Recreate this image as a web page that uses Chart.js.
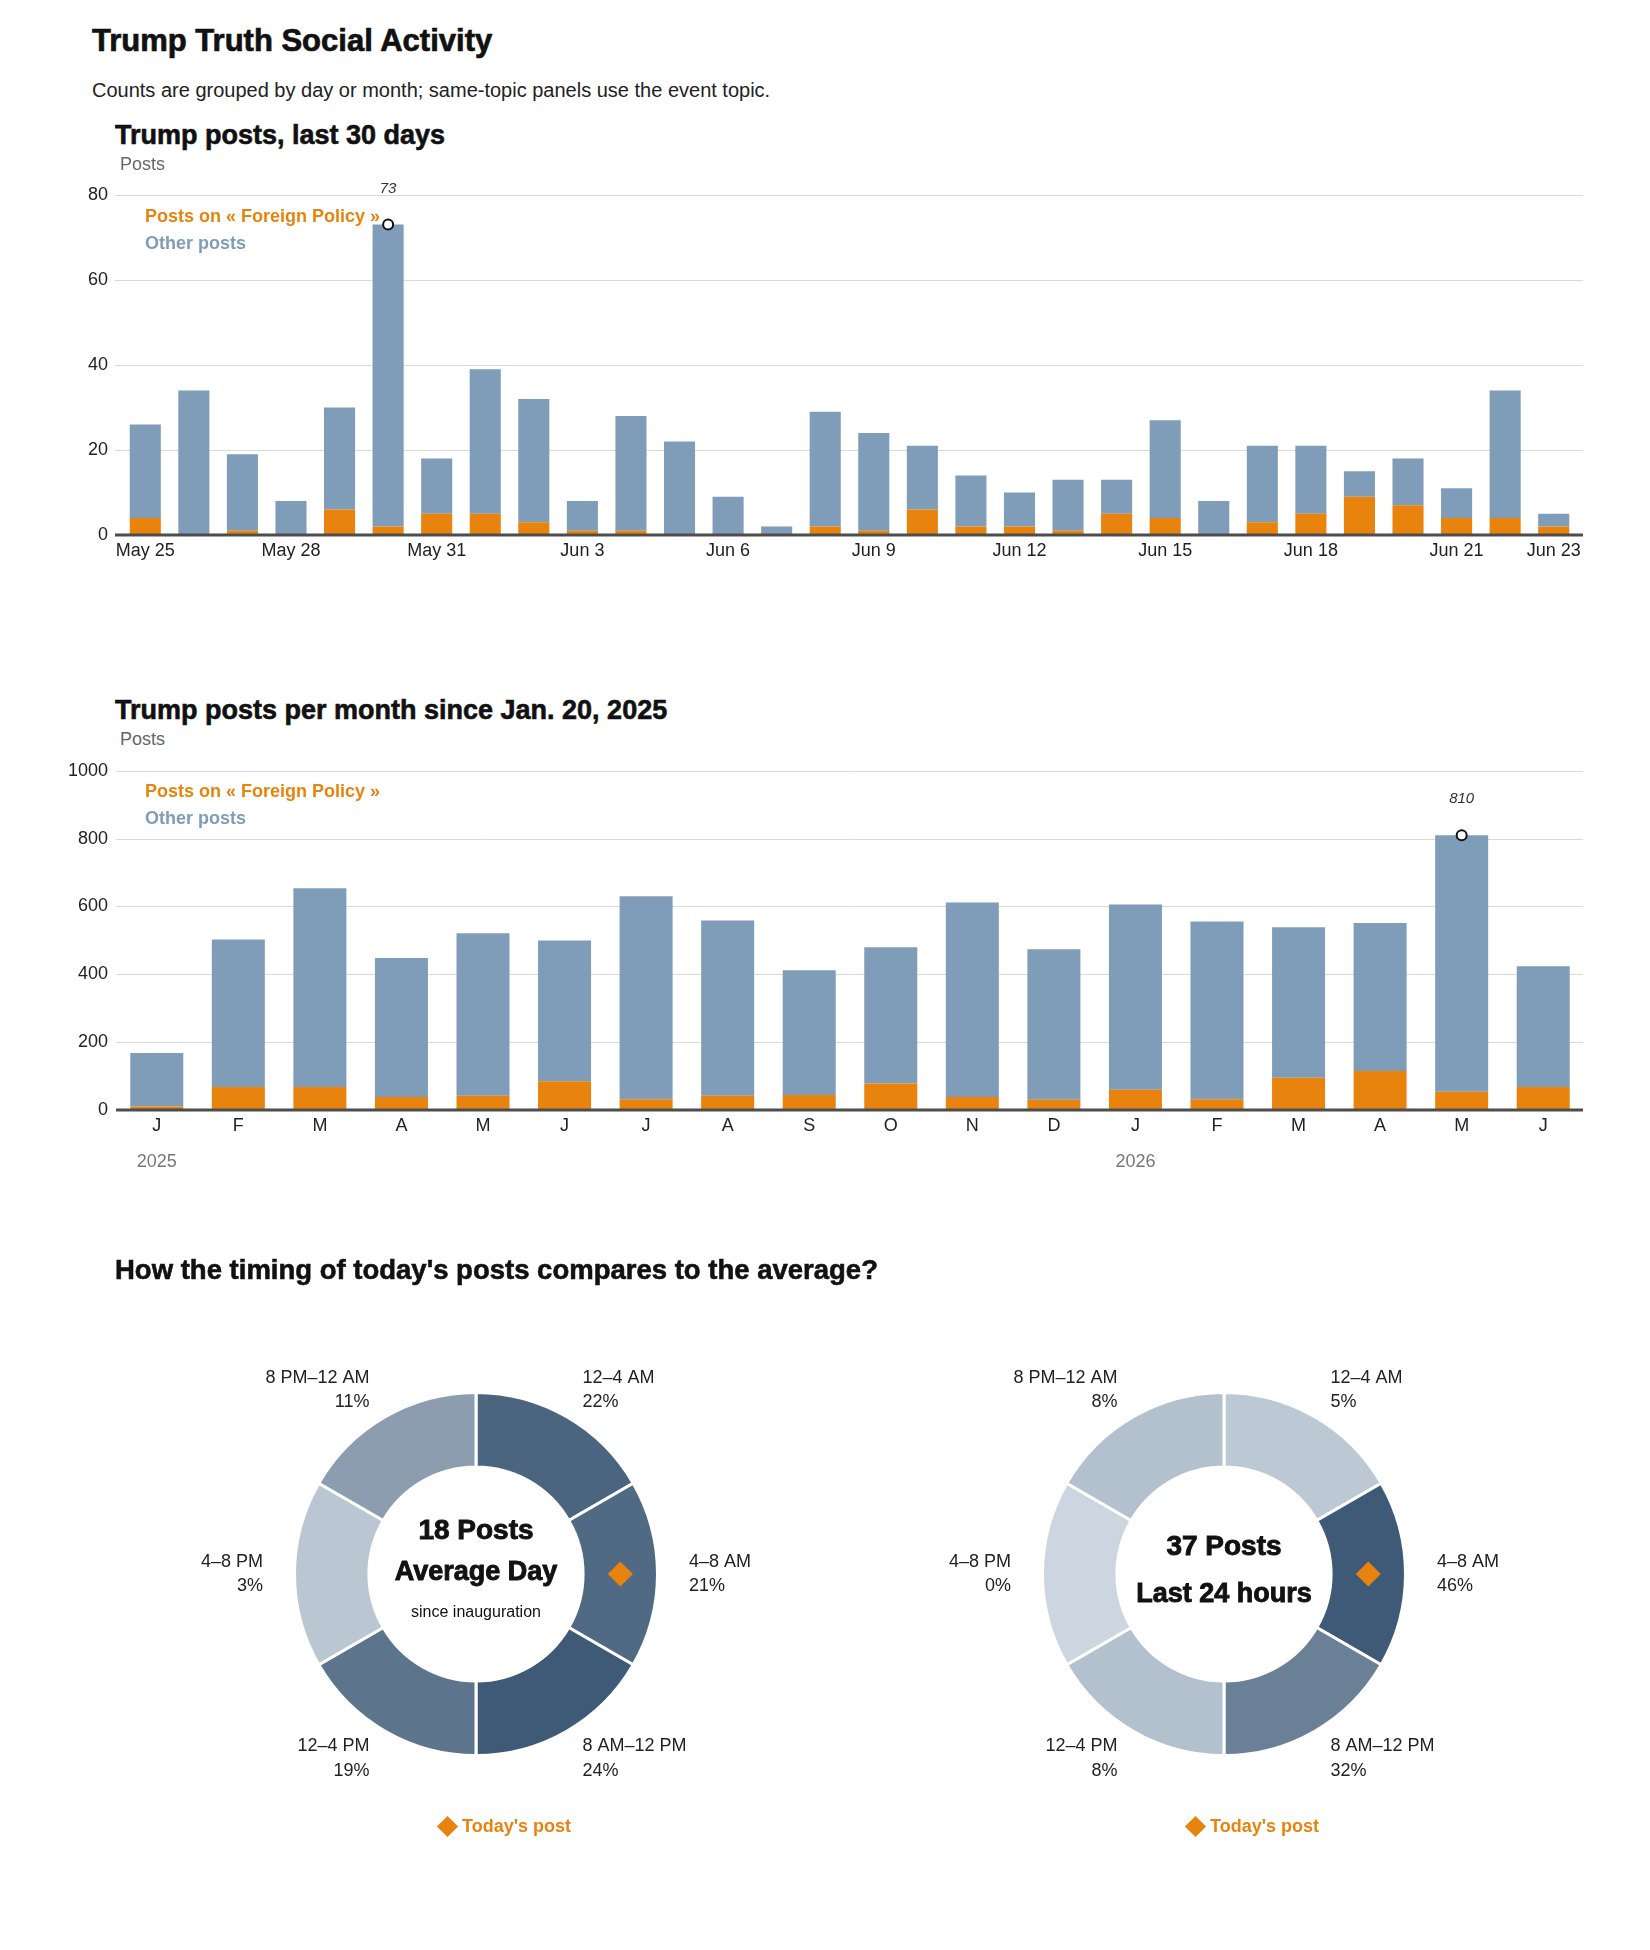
<!DOCTYPE html>
<html>
<head>
<meta charset="utf-8">
<script src="https://cdn.jsdelivr.net/npm/chart.js@4.4.1/dist/chart.umd.min.js"></script>
<style>
  html, body { margin: 0; padding: 0; background: #fff; }
  body { width: 1650px; height: 1950px; position: relative; overflow: hidden;
         font-family: 'Liberation Sans', Arial, sans-serif; color: #111; }
  .t { position: absolute; white-space: nowrap; line-height: 1; z-index: 2; }
  .h0 { font-weight: 700; font-size: 31px; -webkit-text-stroke: 0.7px #111; }
  .h1 { font-weight: 700; font-size: 27px; -webkit-text-stroke: 0.6px #111; }
  .sub { font-size: 20px; color: #222; }
  .ax { font-size: 18px; color: #666; }
  .lg { font-weight: 700; font-size: 18px; }
  canvas { position: absolute; z-index: 1; }
  .dia { position: absolute; width: 15px; height: 15px; background: #E8830E; transform: rotate(45deg); z-index: 2; }
</style>
</head>
<body>

<div class="t h0" style="left:92px; top:25px;">Trump Truth Social Activity</div>
<div class="t sub" style="left:92px; top:80px;">Counts are grouped by day or month; same-topic panels use the event topic.</div>

<div class="t h1" style="left:115px; top:122px;">Trump posts, last 30 days</div>
<div class="t ax" style="left:120px; top:155px;">Posts</div>
<div class="t lg" style="left:145px; top:207px; color:#E8830E;">Posts on « Foreign Policy »</div>
<div class="t lg" style="left:145px; top:234px; color:#7F9DB9;">Other posts</div>
<canvas id="c1" width="1650" height="409" style="left:0; top:171px; width:1650px; height:409px;"></canvas>

<div class="t h1" style="left:115px; top:697px;">Trump posts per month since Jan. 20, 2025</div>
<div class="t ax" style="left:120px; top:730px;">Posts</div>
<div class="t lg" style="left:145px; top:782px; color:#E8830E;">Posts on « Foreign Policy »</div>
<div class="t lg" style="left:145px; top:809px; color:#7F9DB9;">Other posts</div>
<canvas id="c2" width="1650" height="433" style="left:0; top:752px; width:1650px; height:433px;"></canvas>

<div class="t h1" style="left:115px; top:1256px; font-size:27.5px;">How the timing of today's posts compares to the average?</div>
<canvas id="d1" width="600" height="600" style="left:176px; top:1274px; width:600px; height:600px;"></canvas>
<canvas id="d2" width="600" height="600" style="left:924px; top:1274px; width:600px; height:600px;"></canvas>

<div class="dia" style="left:440px; top:1819px;"></div>
<div class="t lg" style="left:462px; top:1817px; color:#E8830E;">Today's post</div>
<div class="dia" style="left:1188px; top:1819px;"></div>
<div class="t lg" style="left:1210px; top:1817px; color:#E8830E;">Today's post</div>

<script>
// ---------------- DATA ----------------
const dayLabels = ['May 25','May 26','May 27','May 28','May 29','May 30','May 31',
  'Jun 1','Jun 2','Jun 3','Jun 4','Jun 5','Jun 6','Jun 7','Jun 8','Jun 9','Jun 10',
  'Jun 11','Jun 12','Jun 13','Jun 14','Jun 15','Jun 16','Jun 17','Jun 18','Jun 19',
  'Jun 20','Jun 21','Jun 22','Jun 23'];
const dayForeign = [4,0,1,0,6,2,5,5,3,1,1,0,0,0,2,1,6,2,2,1,5,4,0,3,5,9,7,4,4,2];
const dayOther   = [22,34,18,8,24,71,13,34,29,7,27,22,9,2,27,23,15,12,8,12,8,23,8,18,16,6,11,7,30,3];
const dayTicks   = [0,20,40,60,80];

const monthLabels  = ['J','F','M','A','M','J','J','A','S','O','N','D','J','F','M','A','M','J'];
const monthYears   = { 0: '2025', 12: '2026' };
const monthForeign = [10,68,68,38,42,85,32,42,44,78,38,30,60,32,95,115,54,68];
const monthOther   = [158,435,586,410,479,415,598,517,368,402,574,444,546,524,444,436,756,356];
const monthTicks   = [0,200,400,600,800,1000];

const timeBins  = ['12–4 AM','4–8 AM','8 AM–12 PM','12–4 PM','4–8 PM','8 PM–12 AM'];
const binHours  = [4,4,4,4,4,4];
const avgPct    = [22,21,24,19,3,11];
const todayPct  = [5,46,32,8,0,8];
const todayBin  = 1;

// ---------------- STYLE ----------------
const ORANGE = '#E8830E', BLUE = '#7F9DB9';
Chart.defaults.font.family = "'Liberation Sans', Arial, sans-serif";
Chart.defaults.color = '#222';

const barDecor = {
  id: 'barDecor',
  beforeDatasetsDraw(chart, args, o) {
    const y = chart.scales.y, ctx = chart.ctx;
    ctx.save();
    ctx.strokeStyle = '#d9d9d9'; ctx.lineWidth = 1;
    y.ticks.forEach(t => {
      if (t.value === 0) return;
      const py = Math.round(y.getPixelForValue(t.value)) + 0.5;
      ctx.beginPath(); ctx.moveTo(o.left, py); ctx.lineTo(o.right, py); ctx.stroke();
    });
    ctx.restore();
  },
  afterDatasetsDraw(chart, args, o) {
    const y = chart.scales.y, x = chart.scales.x, ctx = chart.ctx;
    ctx.save();
    const y0 = y.getPixelForValue(0);
    ctx.fillStyle = '#4d4d4d';
    ctx.fillRect(o.left, y0 - 1.5, o.right - o.left, 3);
    // peak label
    const ds = chart.data.datasets[2];
    const meta = chart.getDatasetMeta(2);
    meta.data.forEach((el, i) => {
      const v = ds.data[i];
      if (v === null || v === undefined) return;
      ctx.fillStyle = '#333';
      ctx.font = "italic 15px 'Liberation Sans Narrow', 'Liberation Sans', Arial, sans-serif";
      ctx.textAlign = 'center'; ctx.textBaseline = 'middle';
      ctx.fillText(String(v), el.x, el.y - 36);
    });
    // year labels
    if (o.years) {
      ctx.fillStyle = '#777';
      ctx.font = "18px 'Liberation Sans', Arial, sans-serif";
      ctx.textAlign = 'center'; ctx.textBaseline = 'middle';
      Object.keys(o.years).forEach(k => {
        ctx.fillText(o.years[k], x.getPixelForValue(Number(k)), o.yearY);
      });
    }
    ctx.restore();
  }
};

function peakSeries(a, b) {
  const tot = a.map((v, i) => v + b[i]);
  const mx = Math.max(...tot);
  return tot.map(v => v === mx ? v : null);
}

function barChart(id, labels, foreign, other, ticks, opts) {
  return new Chart(document.getElementById(id), {
    type: 'bar',
    data: {
      labels,
      datasets: [
        { label: 'Posts on « Foreign Policy »', data: foreign, backgroundColor: ORANGE,
          categoryPercentage: 1, barPercentage: opts.barPct, order: 1 },
        { label: 'Other posts', data: other, backgroundColor: BLUE,
          categoryPercentage: 1, barPercentage: opts.barPct, order: 1 },
        { type: 'line', data: peakSeries(foreign, other), showLine: false, order: 0,
          pointRadius: 5, pointBorderWidth: 2, pointBorderColor: '#111',
          pointBackgroundColor: '#fff', pointHoverRadius: 5 }
      ]
    },
    options: {
      responsive: false, animation: false,
      layout: { padding: { top: 15, right: opts.padRight, left: 0, bottom: opts.padBottom } },
      plugins: { legend: { display: false }, tooltip: { enabled: false },
                 barDecor: { left: opts.gridLeft, right: opts.gridRight, years: opts.years, yearY: opts.yearY } },
      scales: {
        x: {
          stacked: true, grid: { display: false }, border: { display: false },
          ticks: {
            autoSkip: false, maxRotation: 0, minRotation: 0, padding: -3,
            font: { size: 18 }, color: '#222',
            callback: function(v, i) { return opts.showTick(i, labels.length) ? labels[i] : ''; }
          },
          afterFit: s => { s.height = 45; }
        },
        y: {
          stacked: true, min: 0, max: ticks[ticks.length - 1],
          grid: { display: false, drawTicks: false }, border: { display: false },
          afterBuildTicks: s => { s.ticks = ticks.map(v => ({ value: v })); },
          ticks: { padding: opts.yPad, font: { size: 18 }, color: '#222',
                   callback: v => String(v) },
          afterFit: s => { s.width = opts.yWidth; }
        }
      }
    },
    plugins: [barDecor]
  });
}

barChart('c1', dayLabels, dayForeign, dayOther, dayTicks, {
  barPct: 0.64, padRight: 72, padBottom: 0, yWidth: 121, yPad: 13,
  gridLeft: 115, gridRight: 1583,
  showTick: (i, n) => i % 3 === 0 || i === n - 1
});

barChart('c2', monthLabels, monthForeign, monthOther, monthTicks, {
  barPct: 0.65, padRight: 66, padBottom: 30, yWidth: 116, yPad: 8,
  gridLeft: 116, gridRight: 1583, years: monthYears, yearY: 410,
  showTick: () => true
});

// ---------------- DONUTS ----------------
function shade(p, max) {
  const a = [0xCB, 0xD6, 0xE0], b = [0x3F, 0x5A, 0x76];
  const t = max > 0 ? p / max : 0;
  return 'rgb(' + a.map((c, k) => Math.round(c + (b[k] - c) * t)).join(',') + ')';
}

const donutDecor = {
  id: 'donutDecor',
  afterDatasetsDraw(chart, args, o) {
    const meta = chart.getDatasetMeta(0), ctx = chart.ctx;
    ctx.save();
    let cx = 0, cy = 0;
    meta.data.forEach((arc, i) => {
      const p = arc.getProps(['x','y','startAngle','endAngle','innerRadius','outerRadius'], true);
      cx = p.x; cy = p.y;
      const mid = (p.startAngle + p.endAngle) / 2;
      const lx = p.x + Math.cos(mid) * o.labelR, ly = p.y + Math.sin(mid) * o.labelR;
      ctx.fillStyle = '#222';
      ctx.font = "18px 'Liberation Sans', Arial, sans-serif";
      ctx.textBaseline = 'middle';
      ctx.textAlign = Math.cos(mid) > 0.01 ? 'left' : 'right';
      ctx.fillText(chart.data.labels[i], lx, ly - 12);
      ctx.fillText(o.pct[i] + '%', lx, ly + 12.5);
      if (i === o.today) {
        const r = (p.innerRadius + p.outerRadius) / 2;
        const dx = p.x + Math.cos(mid) * r, dy = p.y + Math.sin(mid) * r;
        const s = 12.5;
        ctx.fillStyle = ORANGE;
        ctx.beginPath();
        ctx.moveTo(dx, dy - s); ctx.lineTo(dx + s, dy); ctx.lineTo(dx, dy + s); ctx.lineTo(dx - s, dy);
        ctx.closePath(); ctx.fill();
      }
    });
    ctx.textAlign = 'center'; ctx.textBaseline = 'middle';
    o.center.forEach(c => {
      ctx.font = c.font; ctx.fillStyle = '#111';
      if (c.stroke) { ctx.lineWidth = c.stroke; ctx.strokeStyle = '#111'; ctx.strokeText(c.text, cx, cy + c.dy); }
      ctx.fillText(c.text, cx, cy + c.dy);
    });
    ctx.restore();
  }
};

function donut(id, pct, center) {
  const mx = Math.max(...pct);
  return new Chart(document.getElementById(id), {
    type: 'doughnut',
    data: {
      labels: timeBins,
      datasets: [{ data: binHours, backgroundColor: pct.map(p => shade(p, mx)),
                   borderColor: '#fff', borderWidth: 3, hoverOffset: 0 }]
    },
    options: {
      responsive: false, animation: false, cutout: '59%',
      layout: { padding: 117 },
      plugins: { legend: { display: false }, tooltip: { enabled: false },
                 donutDecor: { labelR: 213, pct, today: todayBin, center } }
    },
    plugins: [donutDecor]
  });
}

const BOLD = "bold 27px 'Liberation Sans', Arial, sans-serif";
donut('d1', avgPct, [
  { text: '18 Posts', dy: -43, font: "bold 28px 'Liberation Sans', Arial, sans-serif", stroke: 0.9 },
  { text: 'Average Day', dy: -1, font: BOLD, stroke: 0.9 },
  { text: 'since inauguration', dy: 39, font: "16px 'Liberation Sans', Arial, sans-serif" }
]);
donut('d2', todayPct, [
  { text: '37 Posts', dy: -26.5, font: "bold 28px 'Liberation Sans', Arial, sans-serif", stroke: 0.9 },
  { text: 'Last 24 hours', dy: 20.5, font: BOLD, stroke: 0.9 }
]);
</script>
</body>
</html>
